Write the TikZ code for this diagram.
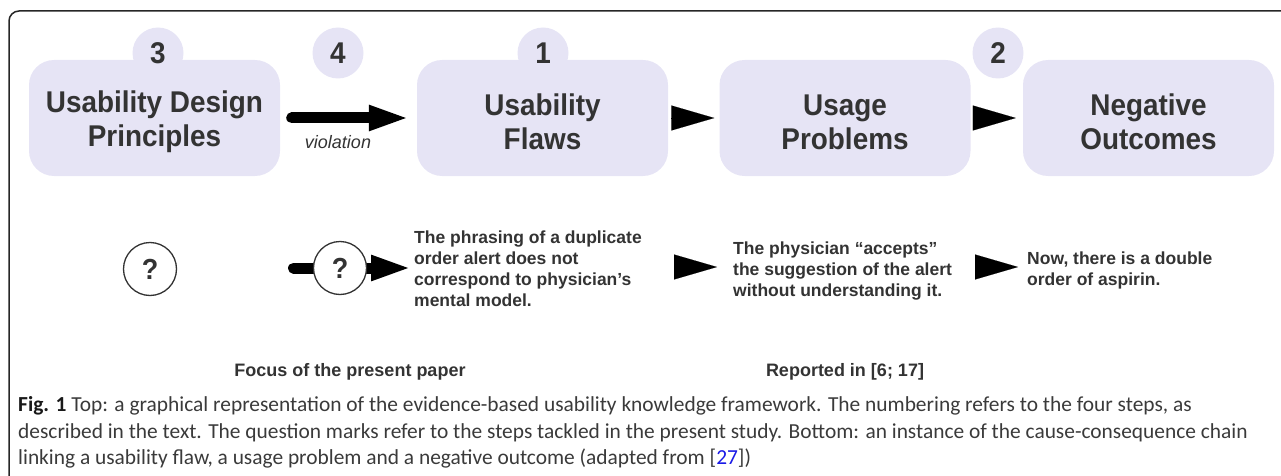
\documentclass[tikz,border=0pt]{standalone}
\usepackage{fontspec}
\setmainfont{Liberation Sans}
\newfontfamily\capfont{Carlito}
\newfontfamily\boxfont{Liberation Sans}[FakeStretch=0.93]
\usetikzlibrary{arrows.meta,backgrounds}
\definecolor{boxcol}{HTML}{E6E4F5}
\definecolor{txt}{HTML}{333333}
\definecolor{captxt}{HTML}{3A3A3A}
\definecolor{linkblue}{HTML}{1A1AE6}
\newcommand{\topstrut}{\rule{0pt}{30pt}}
\begin{document}
\begin{tikzpicture}[x=1pt,y=-1pt,
  stepbox/.style={fill=boxcol, rounded corners=25pt, minimum width=251pt, minimum height=116pt,
    inner sep=0pt, align=center, text=txt, font=\boxfont\bfseries\fontsize{30}{34}\selectfont},
  numc/.style={circle, fill=boxcol, minimum size=51pt, inner sep=0pt, text=txt,
    font=\boxfont\bfseries\fontsize{30}{34}\selectfont},
  qcirc/.style={circle, draw=txt, line width=1.3pt, fill=white, minimum size=53pt, inner sep=0pt,
    text=txt, font=\boxfont\bfseries\fontsize{29}{32}\selectfont},
  fat/.style={line width=11pt, line cap=round, -{Triangle[length=41pt,width=23pt]}},
  tri/.style={line width=0.1pt, -{Triangle[length=43pt,width=25pt]}},
  desc/.style={align=left, anchor=west, inner sep=0pt, text=txt,
    font=\bfseries\fontsize{17.5}{21}\selectfont},
  lbl/.style={inner sep=0pt, text=txt, font=\bfseries\fontsize{18}{22}\selectfont},
  capline/.style={anchor=base west, inner sep=0pt, text=captxt, font=\capfont\fontsize{21.4}{26}\selectfont},
  frame/.style={draw=black!85, line width=1.5pt, rounded corners=10pt},
]
\useasboundingbox (0,0) rectangle (1281,476);

% outer frame
\coordinate (fbl) at (9,477);
\coordinate (ftl) at (9,11);
\coordinate (ftr) at (1282,11);
\draw[frame] (fbl) -- (ftl) -- (ftr);

% top row boxes
\node[stepbox] (b3) at (154.5,118) {\topstrut Usability Design\\Principles};
\node[stepbox] (b1) at (542.5,118) {\topstrut Usability\\Flaws};
\node[stepbox] (b2) at (845,118) {\topstrut Usage\\Problems};
\node[stepbox] (b4) at (1148.5,118) {\topstrut Negative\\Outcomes};

% number bubbles
\node[numc] (n3) at (158,53) {3};
\node[numc] (n4) at (338,53) {4};
\node[numc] (n1) at (543,53) {1};
\node[numc] (n2) at (998,53) {2};

% top connectors
\draw[fat, shorten <=11.5pt, shorten >=7pt] (b3.east) -- (b1.west);
\node[inner sep=0pt, text=txt, font=\itshape\fontsize{18}{20}\selectfont] (viol) at (338,142) {violation};
\draw[tri, shorten <=4pt, shorten >=5pt] (b1.east) -- (b2.west);
\draw[tri, shorten <=4pt, shorten >=7pt] (b2.east) -- (b4.west);

% bottom row
\node[qcirc] (q1) at (150,269) {?};
\node[qcirc] (q2) at (340,268) {?};
\coordinate (q2s) at (293.5,268);
\coordinate (q2e) at (412,268);
\begin{scope}[on background layer]
\draw[fat] (q2s) -- (q2.center) -- (q2e);
\end{scope}

\node[desc] (d1) at (414,269) {The phrasing of a duplicate\\order alert does not\\correspond to physician’s\\mental model.};
\node[desc] (d2) at (733,271) {The physician “accepts”\\the suggestion of the alert\\without understanding it.};
\node[desc] (d3) at (1027,270) {Now, there is a double\\order of aspirin.};

\coordinate (ta1) at (674,267);
\coordinate (ta2) at (717,267);
\coordinate (tb1) at (975,267);
\coordinate (tb2) at (1018,267);
\draw[tri] (ta1) -- (ta2);
\draw[tri] (tb1) -- (tb2);

\node[lbl] (focus) at (350,372) {Focus of the present paper};
\node[lbl] (rep) at (845,372) {Reported in [6; 17]};

% caption
\node[capline] (c1) at (18,411) {{\bfseries\color{black!90}Fig. 1} Top: a graphical representation of the evidence-based usability knowledge framework. The numbering refers to the four steps, as};
\node[capline] (c2) at (18,438) {described in the text. The question marks refer to the steps tackled in the present study. Bottom: an instance of the cause-consequence chain};
\node[capline] (c3) at (18,464) {linking a usability flaw, a usage problem and a negative outcome (adapted from [{\color{linkblue}27}])};
\end{tikzpicture}
\end{document}
